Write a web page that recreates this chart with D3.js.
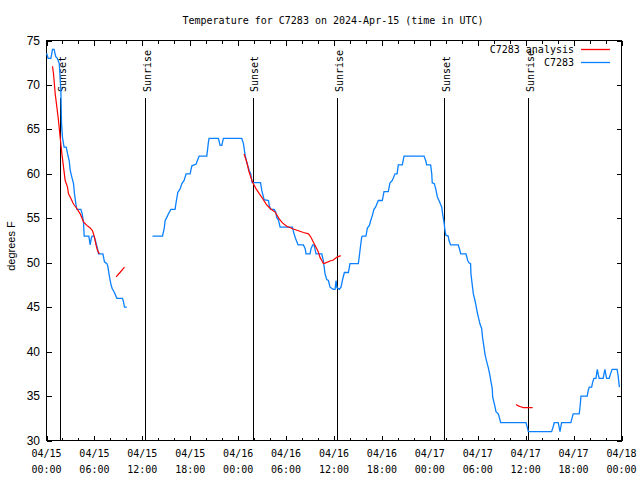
<!DOCTYPE html>
<html><head><meta charset="utf-8">
<script src="https://cdn.jsdelivr.net/npm/d3@7"></script>
<style>body{margin:0;background:#fff}svg{display:block}</style>
</head><body>
<svg id="chart" width="640" height="480"></svg>
<script>
// ---------------- data ----------------
const chartTitle = "Temperature for C7283 on 2024-Apr-15 (time in UTC)";
const yAxisLabel = "degrees F";
const analysisName = "C7283 analysis";
const stationName = "C7283";
const startTime = "2024-04-15T00:00:00Z";   // hours below are counted from here
const endHours = 72;
const yTickValues = [30, 35, 40, 45, 50, 55, 60, 65, 70, 75];
const xMajorTickHours = [0, 6, 12, 18, 24, 30, 36, 42, 48, 54, 60, 66, 72];
const xMinorTickHours = [2, 4, 8, 10, 14, 16, 20, 22, 26, 28, 32, 34, 38, 40, 44, 46, 50, 52, 56, 58, 62, 64, 68, 70];
const sunsetHours = [1.73, 25.82, 49.81];
const sunriseHours = [12.37, 36.41, 60.33];

// observed station temperature: [hours, degF]
const stationSeg1 = [
  [0.00,73.6],[0.20,73.0],[0.55,73.0],[0.75,74.0],[0.95,74.0],[1.15,73.2],[1.35,73.0],
  [1.60,72.4],[1.70,70.9],[1.80,69.4],[1.84,67.5],[1.88,65.7],[2.00,64.1],[2.20,63.0],
  [2.47,63.0],[2.63,62.3],[2.84,61.5],[2.97,60.4],[3.18,59.6],[3.38,58.9],[3.50,57.8],
  [3.68,56.6],[3.80,56.0],[4.30,56.0],[4.47,55.5],[4.63,54.6],[4.72,53.0],[5.30,53.0],
  [5.47,52.0],[5.60,52.7],[5.70,53.0],[5.95,53.0],[6.18,52.3],[6.38,51.6],[6.51,51.0],
  [7.06,51.0],[7.26,50.1],[7.56,49.9],[7.68,49.6],[7.85,48.6],[8.06,47.6],[8.22,47.1],
  [8.47,46.7],[8.81,46.0],[9.52,46.0],[9.64,45.6],[9.77,45.0],[10.06,45.0]
];
const stationSeg2 = [
  [13.27,53.0],[14.52,53.0],[14.73,53.8],[14.86,54.75],[15.07,55.1],[15.27,55.5],[15.57,56.0],
  [16.10,56.0],[16.23,56.8],[16.44,57.9],[16.73,58.3],[16.95,58.9],[17.23,59.25],[17.48,60.0],
  [17.98,60.0],[18.20,60.9],[18.74,61.1],[18.90,61.5],[19.11,62.0],[20.07,62.0],[20.28,63.6],
  [20.36,64.0],[21.53,64.0],[21.74,63.2],[21.95,63.2],[22.15,64.0],[24.45,64.0],[24.66,63.4],
  [24.87,62.1],[25.08,61.3],[25.37,60.4],[25.58,60.0],[25.75,59.0],[26.80,59.0],[26.96,58.1],
  [27.25,57.1],[27.80,57.0],[27.90,56.4],[28.08,56.0],[28.50,56.0],[28.70,55.7],[28.83,55.1],
  [29.04,54.8],[29.25,54.0],[30.79,54.0],[31.00,53.25],[31.20,52.7],[31.50,52.0],[32.17,52.0],
  [32.38,51.6],[32.50,51.0],[33.00,51.0],[33.13,51.6],[33.34,52.0],[33.50,52.0],[33.75,51.0],
  [34.47,51.0],[34.67,50.2],[34.88,48.75],[35.09,48.1],[35.30,48.0],[35.50,47.25],[35.92,47.0],
  [36.13,47.0],[36.26,48.0],[36.36,47.2],[36.67,47.0],[36.88,47.25],[37.10,48.2],[37.30,48.9],
  [37.80,48.9],[38.00,49.9],[39.05,49.9],[39.26,51.4],[39.47,52.9],[39.60,53.0],[40.00,53.0],
  [40.18,53.9],[40.43,54.2],[40.60,54.75],[40.80,55.3],[41.00,56.0],[41.20,56.25],[41.55,57.0],
  [42.05,57.0],[42.26,58.0],[42.80,58.0],[43.00,58.95],[43.30,59.25],[43.64,60.0],[43.90,60.0],
  [44.05,61.0],[44.55,61.0],[44.77,62.0],[47.27,62.0],[47.48,61.5],[47.60,61.0],[48.10,61.0],
  [48.24,60.0],[48.30,59.0],[48.56,58.9],[48.74,58.3],[48.94,57.4],[49.15,57.0],[49.49,56.25],
  [49.60,55.5],[49.77,54.6],[49.90,53.6],[50.00,53.1],[50.30,53.0],[50.40,52.5],[50.60,52.0],
  [51.56,52.0],[51.70,51.6],[51.87,51.0],[52.53,51.0],[52.74,50.25],[52.90,50.0],[53.10,49.9],
  [53.15,48.75],[53.30,47.6],[53.45,46.5],[53.65,45.75],[53.78,45.2],[53.94,44.4],[54.07,43.9],
  [54.28,43.1],[54.49,42.6],[54.60,41.6],[54.78,40.5],[54.90,39.75],[55.03,39.2],[55.20,38.6],
  [55.32,38.2],[55.53,37.3],[55.66,36.6],[55.82,35.8],[55.87,34.9],[56.03,34.3],[56.16,33.8],
  [56.28,33.25],[56.57,33.0],[56.70,32.6],[56.87,32.0],[60.04,32.0],[60.20,31.5],[60.33,31.0],
  [63.25,31.0],[63.46,31.6],[63.58,32.0],[64.08,32.0],[64.30,31.0],[64.50,32.0],[65.66,32.0],
  [65.83,32.6],[65.95,33.0],[66.70,33.0],[66.79,33.6],[66.88,34.5],[66.92,35.0],[67.70,35.0],
  [67.83,35.6],[67.96,36.0],[68.26,36.0],[68.40,36.6],[68.55,37.0],[68.80,37.0],[68.97,38.0],
  [69.10,37.4],[69.20,37.0],[69.70,37.0],[69.92,38.0],[70.13,37.0],[70.46,37.0],[70.63,37.5],
  [70.83,38.0],[71.45,38.0],[71.58,37.3],[71.66,36.6],[71.74,36.0]
];

// analysis temperature: [hours, degF]
const analysisSeg1 = [
  [0.75,72.1],[0.88,71.25],[1.09,69.0],[1.30,67.5],[1.50,66.0],[1.71,64.1],[1.93,62.25],
  [2.13,60.75],[2.34,59.25],[2.63,58.5],[2.75,57.75],[2.97,57.4],[3.38,56.6],[3.80,56.1],
  [4.22,55.5],[4.63,54.6],[5.05,54.2],[5.47,53.9],[5.76,53.6],[6.00,52.9],[6.18,52.1],
  [6.38,51.4],[6.63,51.0]
];
const analysisSeg2 = [[8.72,48.4],[9.20,48.9],[9.77,49.5]];
const analysisSeg3 = [
  [24.74,62.25],[25.08,61.3],[25.37,60.2],[25.78,59.1],[26.25,58.3],[26.66,57.75],[27.08,57.2],
  [27.50,56.6],[28.00,56.1],[28.62,55.7],[29.16,54.9],[29.58,54.45],[30.08,54.1],[30.91,53.8],
  [31.54,53.6],[32.17,53.4],[32.80,53.25],[33.10,52.9],[33.42,52.3],[33.75,51.75],[34.04,51.2],
  [34.25,50.6],[34.47,50.25],[34.67,49.9],[34.88,49.95],[35.50,50.2],[35.92,50.3],[36.34,50.6],
  [36.84,50.8]
];
const analysisSeg4 = [[58.79,34.05],[59.08,33.9],[59.38,33.8],[59.70,33.7],[60.87,33.7]];

// ---------------- drawing ----------------
(function () {
const svg = d3.select("#chart");
const W = 640, H = 480;
const pL = 46.5, pR = 621.5, pT = 40.5, pB = 440.5;
const mono = "'DejaVu Sans Mono', 'Liberation Mono', monospace";
const blue = "#0a80ff", red = "#ff0000";

const t0 = new Date(startTime);
const toDate = h => new Date(t0.getTime() + h * 3600000);

const x = d3.scaleUtc().domain([toDate(0), toDate(endHours)]).range([pL, pR]);
const y = d3.scaleLinear().domain([30, 75]).range([pB, pT]);

svg.append("rect").attr("width", W).attr("height", H).attr("fill", "#fff");

// title
svg.append("text").attr("x", 333).attr("y", 23.5).attr("text-anchor", "middle")
  .attr("font-family", mono).attr("font-size", 10).attr("fill", "#000").text(chartTitle);

// y label
svg.append("text").attr("transform", "translate(15,246) rotate(-90)")
  .attr("text-anchor", "middle").attr("font-family", "'Liberation Sans', Arial, sans-serif")
  .attr("font-size", 11).attr("fill", "#000").text(yAxisLabel);

// axes (ticks drawn inward on all four sides)
const major = 5, minor = 3;
const mkX = (gen, size, hours) => gen(x).tickValues(hours.map(toDate)).tickSizeInner(size).tickSizeOuter(0).tickFormat("");
svg.append("g").attr("transform", `translate(0,${pB})`).call(mkX(d3.axisBottom, -major, xMajorTickHours));
svg.append("g").attr("transform", `translate(0,${pB})`).call(mkX(d3.axisBottom, -minor, xMinorTickHours));
svg.append("g").attr("transform", `translate(0,${pT})`).call(mkX(d3.axisTop, -major, xMajorTickHours));
svg.append("g").attr("transform", `translate(0,${pT})`).call(mkX(d3.axisTop, -minor, xMinorTickHours));
svg.append("g").attr("transform", `translate(${pL},0)`)
  .call(d3.axisLeft(y).tickValues(yTickValues).tickSizeInner(-major).tickSizeOuter(0).tickFormat(""));
svg.append("g").attr("transform", `translate(${pR},0)`)
  .call(d3.axisRight(y).tickValues(yTickValues).tickSizeInner(-major).tickSizeOuter(0).tickFormat(""));
svg.selectAll("g .domain").remove();
svg.selectAll("g .tick line").attr("stroke", "#000").attr("shape-rendering", "crispEdges");

// y tick labels
svg.append("g").selectAll("text").data(yTickValues).join("text")
  .attr("x", 40).attr("y", d => y(d) + 4).attr("text-anchor", "end")
  .attr("font-family", "'Liberation Sans', Arial, sans-serif").attr("font-size", 12).attr("fill", "#000")
  .text(d => d);

// x tick labels (two lines)
const fmtDay = d3.utcFormat("%m/%d"), fmtTime = d3.utcFormat("%H:%M");
const xl = svg.append("g").selectAll("g").data(xMajorTickHours).join("g");
xl.append("text").attr("x", d => x(toDate(d))).attr("y", 457).attr("text-anchor", "middle")
  .attr("font-family", mono).attr("font-size", 10).attr("fill", "#000").text(d => fmtDay(toDate(d)));
xl.append("text").attr("x", d => x(toDate(d))).attr("y", 473).attr("text-anchor", "middle")
  .attr("font-family", mono).attr("font-size", 10).attr("fill", "#000").text(d => fmtTime(toDate(d)));

// sunrise / sunset markers
const sunEvents = sunsetHours.map(h => ({h, label: "Sunset"}))
  .concat(sunriseHours.map(h => ({h, label: "Sunrise"})));
const sg = svg.append("g").selectAll("g").data(sunEvents).join("g");
sg.append("line")
  .attr("x1", d => Math.round(x(toDate(d.h))) + 0.5).attr("x2", d => Math.round(x(toDate(d.h))) + 0.5)
  .attr("y1", 98).attr("y2", pB).attr("stroke", "#000").attr("stroke-width", 1)
  .attr("shape-rendering", "crispEdges");
sg.append("text")
  .attr("transform", d => `translate(${x(toDate(d.h)) + 5.5},92) rotate(-90)`)
  .attr("font-family", mono).attr("font-size", 10).attr("fill", "#000").text(d => d.label);

// frame
svg.append("rect").attr("x", pL).attr("y", pT).attr("width", pR - pL).attr("height", pB - pT)
  .attr("fill", "none").attr("stroke", "#000").attr("shape-rendering", "crispEdges");

// series
const line = d3.line().x(d => x(toDate(d[0]))).y(d => y(d[1]));
[stationSeg1, stationSeg2].forEach(seg =>
  svg.append("path").datum(seg).attr("d", line).attr("fill", "none").attr("stroke", blue).attr("stroke-width", 1.3));
[analysisSeg1, analysisSeg2, analysisSeg3, analysisSeg4].forEach(seg =>
  svg.append("path").datum(seg).attr("d", line).attr("fill", "none").attr("stroke", red).attr("stroke-width", 1.2));

// legend
const legend = [{name: analysisName, color: red, y: 49.5}, {name: stationName, color: blue, y: 62.5}];
const lg = svg.append("g").selectAll("g").data(legend).join("g");
lg.append("text").attr("x", 574).attr("y", d => d.y + 3.5).attr("text-anchor", "end")
  .attr("font-family", mono).attr("font-size", 10).attr("fill", "#000").text(d => d.name);
lg.append("line").attr("x1", 581).attr("x2", 610).attr("y1", d => d.y).attr("y2", d => d.y)
  .attr("stroke", d => d.color).attr("stroke-width", 1.3);
})();
</script>
</body></html>
